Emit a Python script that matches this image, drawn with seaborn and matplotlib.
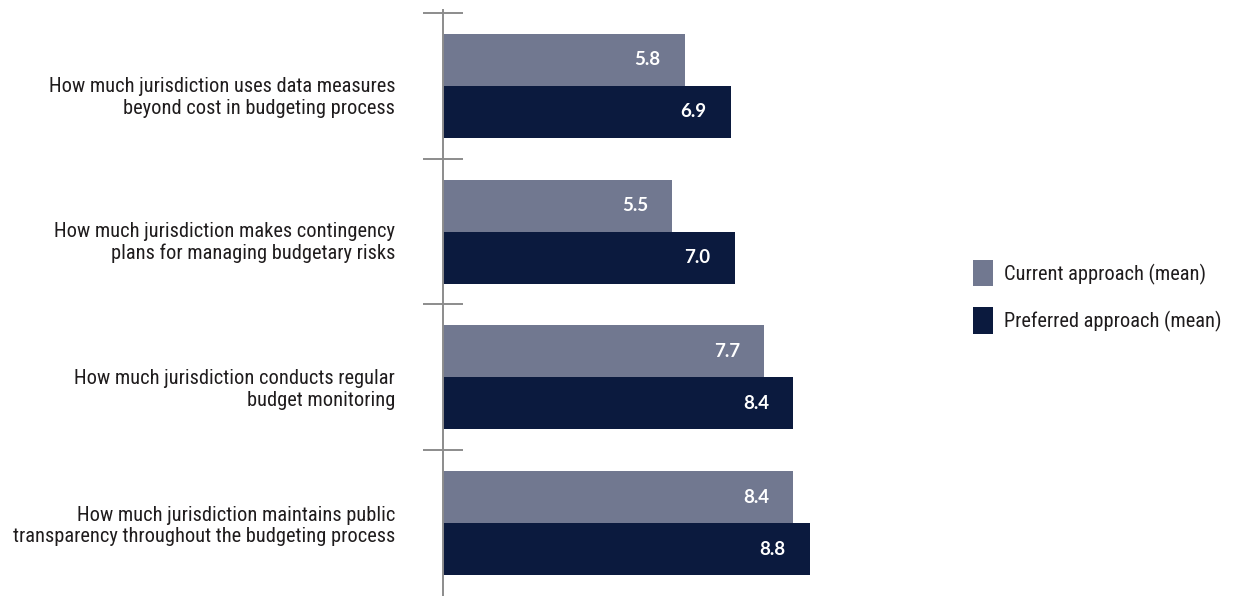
import matplotlib
matplotlib.use("Agg")
import matplotlib.pyplot as plt
from matplotlib.patches import Patch
from matplotlib import font_manager, transforms
import seaborn as sns
import pandas as pd

# Survey items (wrapped for the axis labels)
questions = [
    "How much jurisdiction uses data measures\nbeyond cost in budgeting process",
    "How much jurisdiction makes contingency\nplans for managing budgetary risks",
    "How much jurisdiction conducts regular\nbudget monitoring",
    "How much jurisdiction maintains public\ntransparency throughout the budgeting process",
]
series = ["Current approach (mean)", "Preferred approach (mean)"]
current_mean = [5.8, 5.5, 7.7, 8.4]
preferred_mean = [6.9, 7.0, 8.4, 8.8]

colors = ["#717890", "#0b1a3e"]

# Prefer a narrow sans for the labels, falling back to Roboto
installed = {f.name for f in font_manager.fontManager.ttflist}
narrow = [n for n in ("Roboto Condensed", "Open Sans Condensed",
                      "Liberation Sans Narrow", "Arial Narrow") if n in installed]
label_font = (narrow[:1] or ["Roboto"]) + ["DejaVu Sans"]
value_font = ["Lato", "DejaVu Sans"]
label_size = 14.7 if narrow else 12.6

df = pd.DataFrame({
    "question": questions * 2,
    "approach": [series[0]] * 4 + [series[1]] * 4,
    "value": current_mean + preferred_mean,
})

sns.set_theme(style="white")
plt.rcParams["font.family"] = label_font

W, H = 1237, 596
fig = plt.figure(figsize=(W / 100, H / 100), dpi=100)
ax_left, ax_top, ax_bottom = 443 / W, 1 - 10 / H, 0.0
ax_width = 417 / W
ax = fig.add_axes([ax_left, ax_bottom, ax_width, ax_top - ax_bottom])

sns.barplot(
    data=df, y="question", x="value", hue="approach", orient="h",
    palette=colors, width=0.714, saturation=1, legend=False,
    linewidth=0, ax=ax,
)

ax.set_xlim(0, 10)
ax.set_ylim(3.5, -0.52)
ax.set_xlabel("")
ax.set_ylabel("")

for side in ("top", "right", "bottom"):
    ax.spines[side].set_visible(False)
ax.spines["left"].set_color("#8c8c8c")
ax.spines["left"].set_linewidth(1.4)
ax.set_xticks([])

# Boundary ticks between the question groups
ax.set_yticks([-0.5, 0.5, 1.5, 2.5])
ax.set_yticklabels([])
ax.tick_params(axis="y", which="major", direction="inout", length=29.5,
               width=1.4, color="#8c8c8c", left=True)

# Question labels to the left of the axis
label_shift = [-12, -11, -12, -3]
blend = transforms.blended_transform_factory(ax.transAxes, ax.transData)
for i, (q, dy) in enumerate(zip(questions, label_shift)):
    tr = transforms.offset_copy(blend, fig=fig, x=-48, y=dy, units="dots")
    ax.text(0, i, q, transform=tr, ha="right", va="center",
            multialignment="right", linespacing=1.18,
            fontsize=label_size, color="#1f1c1d", family=label_font)

# Value labels inside the bar ends
for container in ax.containers:
    for patch in container:
        val = patch.get_width()
        ax.annotate(
            f"{val:.1f}",
            xy=(val, patch.get_y() + patch.get_height() / 2),
            xytext=(-17.5, 0), textcoords="offset points",
            ha="right", va="center", color="white",
            fontsize=13.5, fontweight="bold", family=value_font,
        )

px = label_size * 100 / 72
handles = [Patch(facecolor=c, edgecolor="none") for c in colors]
fig.legend(
    handles, series, loc="upper left",
    bbox_to_anchor=(973 / W, 1 - 260 / H), frameon=False,
    borderpad=0, borderaxespad=0,
    handlelength=20 / px, handleheight=33 / px,
    handletextpad=11 / px, labelspacing=21 / px, labelcolor="#1f1c1d",
    prop={"family": label_font, "size": label_size},
)

fig.savefig("out.png", dpi=100, facecolor="white")
